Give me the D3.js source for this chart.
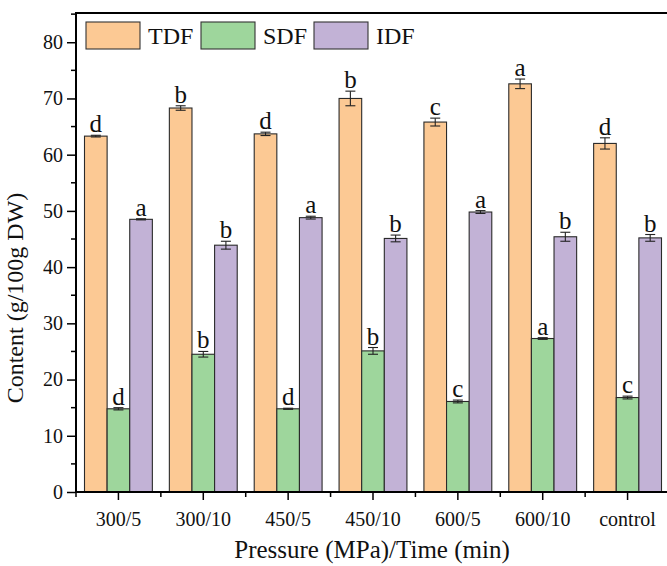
<!DOCTYPE html>
<html>
<head>
<meta charset="utf-8">
<script src="https://cdn.jsdelivr.net/npm/d3@7"></script>
<style>
  body { margin: 0; background: #fff; }
  svg text { font-family: "Liberation Serif", "Times New Roman", serif !important; fill: #111; }
</style>
</head>
<body>
<div id="chart"></div>
<script>
var groups = ["300/5", "300/10", "450/5", "450/10", "600/5", "600/10", "control"];
var seriesNames = ["TDF", "SDF", "IDF"];
var tdf = [63.3, 68.3, 63.7, 70.0, 65.8, 72.6, 62.0];
var tdfErr = [0.15, 0.4, 0.3, 1.3, 0.7, 0.85, 1.0];
var tdfLetters = ["d", "b", "d", "b", "c", "a", "d"];
var sdf = [14.8, 24.5, 14.8, 25.1, 16.1, 27.3, 16.8];
var sdfErr = [0.2, 0.5, 0.1, 0.6, 0.25, 0.15, 0.25];
var sdfLetters = ["d", "b", "d", "b", "c", "a", "c"];
var idf = [48.5, 43.9, 48.8, 45.1, 49.8, 45.4, 45.2];
var idfErr = [0.1, 0.7, 0.25, 0.6, 0.25, 0.8, 0.6];
var idfLetters = ["a", "b", "a", "b", "a", "b", "b"];
var colors = ["#fcc994", "#9ed69c", "#c2b2d6"];

var margin = { top: 13, right: -3, bottom: 74, left: 76 },
    W = 667, H = 566,
    width = W - margin.left - margin.right,
    height = H - margin.top - margin.bottom;

var svg = d3.select("#chart").append("svg")
    .attr("width", W).attr("height", H)
  .append("g")
    .attr("transform", "translate(" + margin.left + "," + margin.top + ")");

var x = d3.scaleBand().domain(groups).range([0, width]).paddingInner(0).paddingOuter(0);
var xs = d3.scaleBand().domain(seriesNames).range([8.5, x.bandwidth() - 8.5]);
var y = d3.scaleLinear().domain([0, 85.2]).range([height, 0]);

var series = [
  { name: "TDF", v: tdf, e: tdfErr, l: tdfLetters },
  { name: "SDF", v: sdf, e: sdfErr, l: sdfLetters },
  { name: "IDF", v: idf, e: idfErr, l: idfLetters }
];
var rows = [];
series.forEach(function(s, si) {
  groups.forEach(function(g, gi) {
    rows.push({ g: g, s: s.name, c: colors[si], v: s.v[gi], e: s.e[gi], l: s.l[gi] });
  });
});

svg.selectAll(".bar").data(rows).join("rect")
  .attr("x", d => x(d.g) + xs(d.s))
  .attr("y", d => y(d.v))
  .attr("width", xs.bandwidth())
  .attr("height", d => height - y(d.v))
  .attr("fill", d => d.c)
  .attr("stroke", "#2a2a2a")
  .attr("stroke-width", 1.1);

var cx = d => x(d.g) + xs(d.s) + xs.bandwidth() / 2;
var eb = svg.selectAll(".err").data(rows).join("g").attr("stroke", "#222").attr("stroke-width", 1.1);
eb.append("line").attr("x1", cx).attr("x2", cx).attr("y1", d => y(d.v + d.e)).attr("y2", d => y(d.v - d.e));
eb.append("line").attr("x1", d => cx(d) - 5).attr("x2", d => cx(d) + 5).attr("y1", d => y(d.v + d.e)).attr("y2", d => y(d.v + d.e));
eb.append("line").attr("x1", d => cx(d) - 5).attr("x2", d => cx(d) + 5).attr("y1", d => y(d.v - d.e)).attr("y2", d => y(d.v - d.e));

svg.selectAll(".lab").data(rows).join("text")
  .attr("x", cx)
  .attr("y", d => y(d.v + d.e) - 3)
  .attr("text-anchor", "middle")
  .style("font-size", "25px")
  .text(d => d.l);

// y axis
var yAxis = svg.append("g")
  .call(d3.axisLeft(y).tickValues([0, 10, 20, 30, 40, 50, 60, 70, 80]).tickSize(9).tickPadding(4));
yAxis.selectAll("text").style("font-size", "20px");
yAxis.select(".domain").remove();
svg.append("g").selectAll("line").data([5, 15, 25, 35, 45, 55, 65, 75, 85]).join("line")
  .attr("x1", -5).attr("x2", 0).attr("y1", d => y(d)).attr("y2", d => y(d))
  .attr("stroke", "#000").attr("stroke-width", 1.5);
yAxis.selectAll(".tick line").attr("stroke-width", 1.5);

// x axis
var xAxis = svg.append("g").attr("transform", "translate(0," + height + ")")
  .call(d3.axisBottom(x).tickSize(8).tickPadding(12));
xAxis.selectAll("text").style("font-size", "20px");
xAxis.select(".domain").remove();
xAxis.selectAll(".tick line").attr("stroke-width", 1.5);
svg.append("g").selectAll("line").data(groups).join("line")
  .attr("x1", d => x(d)).attr("x2", d => x(d))
  .attr("y1", height).attr("y2", height + 5)
  .attr("stroke", "#000").attr("stroke-width", 1.5);

// frame lines
svg.append("line").attr("x1", 0).attr("x2", 0).attr("y1", 0).attr("y2", height).attr("stroke", "#000").attr("stroke-width", 2);
svg.append("line").attr("x1", -1).attr("x2", width).attr("y1", height).attr("y2", height).attr("stroke", "#000").attr("stroke-width", 2);
svg.append("line").attr("x1", -1).attr("x2", width).attr("y1", 0).attr("y2", 0).attr("stroke", "#000").attr("stroke-width", 2);

// axis titles
svg.append("text")
  .attr("transform", "translate(" + (-53) + "," + 285 + ") rotate(-90)")
  .attr("text-anchor", "middle")
  .style("font-size", "24px")
  .text("Content (g/100g DW)");
svg.append("text")
  .attr("x", 296).attr("y", height + 66)
  .attr("text-anchor", "middle")
  .style("font-size", "25px")
  .text("Pressure (MPa)/Time (min)");

// legend
var legX = [10, 125, 238];
var leg = svg.append("g").selectAll("g").data(seriesNames).join("g")
  .attr("transform", (d, i) => "translate(" + legX[i] + ",9)");
leg.append("rect").attr("width", 54).attr("height", 27)
  .attr("fill", (d, i) => colors[i]).attr("stroke", "#333").attr("stroke-width", 1.1);
leg.append("text").attr("x", 62).attr("y", 22).style("font-size", "24px").text(d => d);
</script>
</body>
</html>
